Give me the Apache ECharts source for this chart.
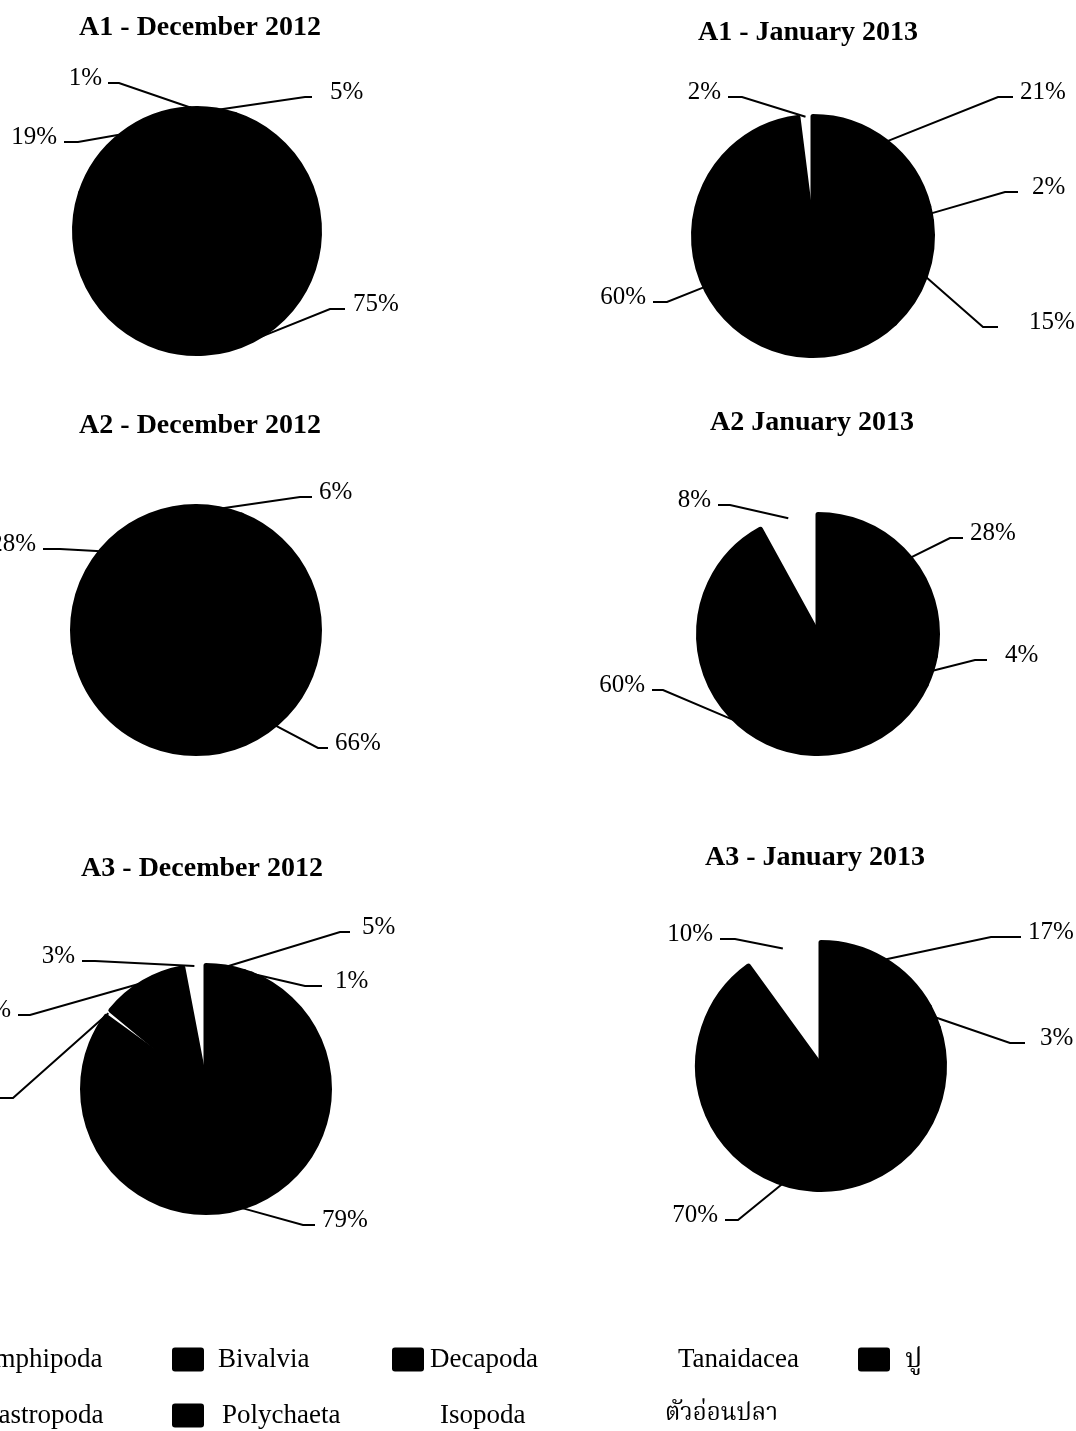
<!DOCTYPE html>
<html>
<head>
<meta charset="utf-8">
<script src="https://cdn.jsdelivr.net/npm/echarts@6/dist/echarts.min.js"></script>
<style>
  html, body { margin: 0; padding: 0; background: #fff; overflow: hidden; }
  /* the figure runs a little past the left edge of the page */
  #chart { position: absolute; left: -80px; top: 0; width: 1156px; height: 1431px; }
</style>
</head>
<body>
<div id="chart"></div>
<script>
// Composition (%) of benthic groups at stations A1-A3, December 2012 and January 2013
const titles = ['A1 - December 2012', 'A1 - January 2013', 'A2 - December 2012',
                'A2 January 2013', 'A3 - December 2012', 'A3 - January 2013'];

const groupsA1Dec = ['Amphipoda', 'Polychaeta', 'Decapoda', 'Bivalvia'];
const valuesA1Dec = [5, 75, 19, 1];

const groupsA1Jan = ['Amphipoda', 'Bivalvia', 'Decapoda', 'Polychaeta', 'Tanaidacea'];
const valuesA1Jan = [21, 2, 15, 60, 2];

const groupsA2Dec = ['Amphipoda', 'Polychaeta', 'Decapoda'];
const valuesA2Dec = [6, 66, 28];

const groupsA2Jan = ['Amphipoda', 'Gastropoda', 'Polychaeta', 'Tanaidacea'];
const valuesA2Jan = [28, 4, 60, 8];

const groupsA3Dec = ['Amphipoda', 'Bivalvia', 'Polychaeta', 'Isopoda', 'ปู', 'ตัวอ่อนปลา'];
const valuesA3Dec = [5, 1, 79, 1, 11, 3];

const groupsA3Jan = ['Amphipoda', 'Decapoda', 'Polychaeta', 'Tanaidacea'];
const valuesA3Jan = [17, 3, 70, 10];

const legendNames = ['Amphipoda', 'Bivalvia', 'Decapoda', 'Tanaidacea', 'ปู',
                     'Gastropoda', 'Polychaeta', 'Isopoda', 'ตัวอ่อนปลา'];

// fill of each group: dark groups in black, pale groups left unfilled on the white page
const DARK = '#000';
const PALE = 'rgba(255,255,255,0)';
const groupColor = {
  'Amphipoda': DARK, 'Bivalvia': DARK, 'Decapoda': DARK, 'Tanaidacea': PALE, 'ปู': DARK,
  'Gastropoda': DARK, 'Polychaeta': DARK, 'Isopoda': PALE, 'ตัวอ่อนปลา': PALE
};

const SERIF = "'Liberation Serif', 'Times New Roman', 'Noto Serif Thai', 'Noto Sans Thai', 'Loma', 'Garuda', serif";
const OFF = 80;          // horizontal shift of the chart canvas
const OUTLINE = 5;       // outline width of the dark slices

// pie geometry and leader lines:
// [elbow dx, elbow dy, stub end dx, text gap] relative to the pie centre
const pies = [
  { groups: groupsA1Dec, values: valuesA1Dec, cx: 197, cy: 231, r: 125, tx: 200, ty: 28,
    leaders: [[108, -134, 115, 18], [133, 78, 148, 8], [-119, -89, -133, 7], [-78, -148, -89, 6]] },
  { groups: groupsA1Jan, values: valuesA1Jan, cx: 813, cy: 236, r: 122, tx: 808, ty: 33,
    leaders: [[185, -139, 200, 7], [192, -44, 205, 14], [170, 91, 185, 31], [-146, 66, -160, 7], [-71, -139, -85, 7]] },
  { groups: groupsA2Dec, values: valuesA2Dec, cx: 196, cy: 630, r: 126, tx: 200, ty: 426,
    leaders: [[104, -133, 116, 7], [122, 118, 132, 7], [-136, -81, -153, 7]] },
  { groups: groupsA2Jan, values: valuesA2Jan, cx: 818, cy: 634, r: 122, tx: 812, ty: 423,
    leaders: [[132, -96, 145, 7], [157, 26, 169, 18], [-155, 56, -166, 7], [-88, -129, -100, 7]] },
  { groups: groupsA3Dec, values: valuesA3Dec, cx: 206, cy: 1089, r: 126, tx: 202, ty: 869,
    leaders: [[134, -157, 144, 12], [99, -103, 116, 13], [97, 136, 109, 7], [-193, 9, -210, 7], [-176, -74, -188, 7], [-111, -128, -124, 7]] },
  { groups: groupsA3Jan, values: valuesA3Jan, cx: 821, cy: 1066, r: 126, tx: 815, ty: 858,
    leaders: [[170, -129, 200, 7], [189, -23, 204, 15], [-83, 154, -96, 7], [-86, -127, -101, 7]] }
];

const series = pies.map(function (p) {
  return {
    type: 'pie',
    center: [p.cx + OFF, p.cy],
    radius: p.r - OUTLINE / 2,
    startAngle: 90,
    clockwise: true,
    avoidLabelOverlap: false,
    silent: true,
    animation: false,
    emphasis: { disabled: true },
    label: {
      show: true, position: 'outside', formatter: '{c}%',
      color: '#000', fontSize: 25, fontFamily: SERIF
    },
    labelLine: { show: true, length: 10, length2: 10, lineStyle: { color: '#000', width: 2 } },
    labelLayout: function (params) {
      const lead = p.leaders[params.dataIndex];
      const pts = params.labelLinePoints;
      if (!lead || !pts) return {};
      const cx = p.cx + OFF, cy = p.cy;
      const ex = cx + lead[0], ey = cy + lead[1], sx = cx + lead[2];
      const toRight = lead[2] >= lead[0];
      return {
        x: toRight ? sx + lead[3] : sx - lead[3],
        y: ey - 5,
        align: toRight ? 'left' : 'right',
        verticalAlign: 'middle',
        labelLinePoints: [pts[0], [ex, ey], [sx, ey]]
      };
    },
    data: p.groups.map(function (g, i) {
      const c = groupColor[g];
      const dark = c === DARK;
      return {
        name: g, value: p.values[i],
        itemStyle: { color: c, borderColor: DARK, borderWidth: dark ? OUTLINE : 0, borderJoin: 'round' }
      };
    })
  };
});

// legend entries: [icon left, row centre y, extra space before text, font size]
const legendSlots = [
  [-62, 1358, 0, 27], [172, 1358, 9, 27], [392, 1358, 1, 27], [641, 1358, 0, 27], [858, 1358, 10, 27],
  [-58, 1414, 0, 27], [172, 1414, 13, 27], [403, 1414, 0, 27], [628, 1414, 0, 24]
];

const legends = legendNames.map(function (name, i) {
  const s = legendSlots[i];
  return {
    data: [name],
    left: s[0] + OFF,
    top: s[1] - 12,
    padding: 0,
    orient: 'horizontal',
    icon: 'path://M3,0H29Q32,0,32,3V21Q32,24,29,24H3Q0,24,0,21V3Q0,0,3,0Z',
    itemWidth: 32,
    itemHeight: 24,
    selectedMode: false,
    itemStyle: { borderWidth: 0 },
    textStyle: {
      color: '#000', fontSize: s[3], fontFamily: SERIF, lineHeight: 24,
      padding: [0, 0, 0, s[2]]
    }
  };
});

const titleTexts = pies.map(function (p, i) {
  return {
    type: 'text',
    x: p.tx + OFF,
    y: p.ty,
    style: {
      text: titles[i],
      align: 'center', verticalAlign: 'middle',
      textAlign: 'center', textVerticalAlign: 'middle',
      font: 'bold 28px ' + SERIF,
      fill: '#000'
    }
  };
});

const chart = echarts.init(document.getElementById('chart'), null, { renderer: 'canvas' });
chart.setOption({
  backgroundColor: '#fff',
  animation: false,
  textStyle: { fontFamily: SERIF },
  graphic: titleTexts,
  legend: legends,
  series: series
});
</script>
</body>
</html>
